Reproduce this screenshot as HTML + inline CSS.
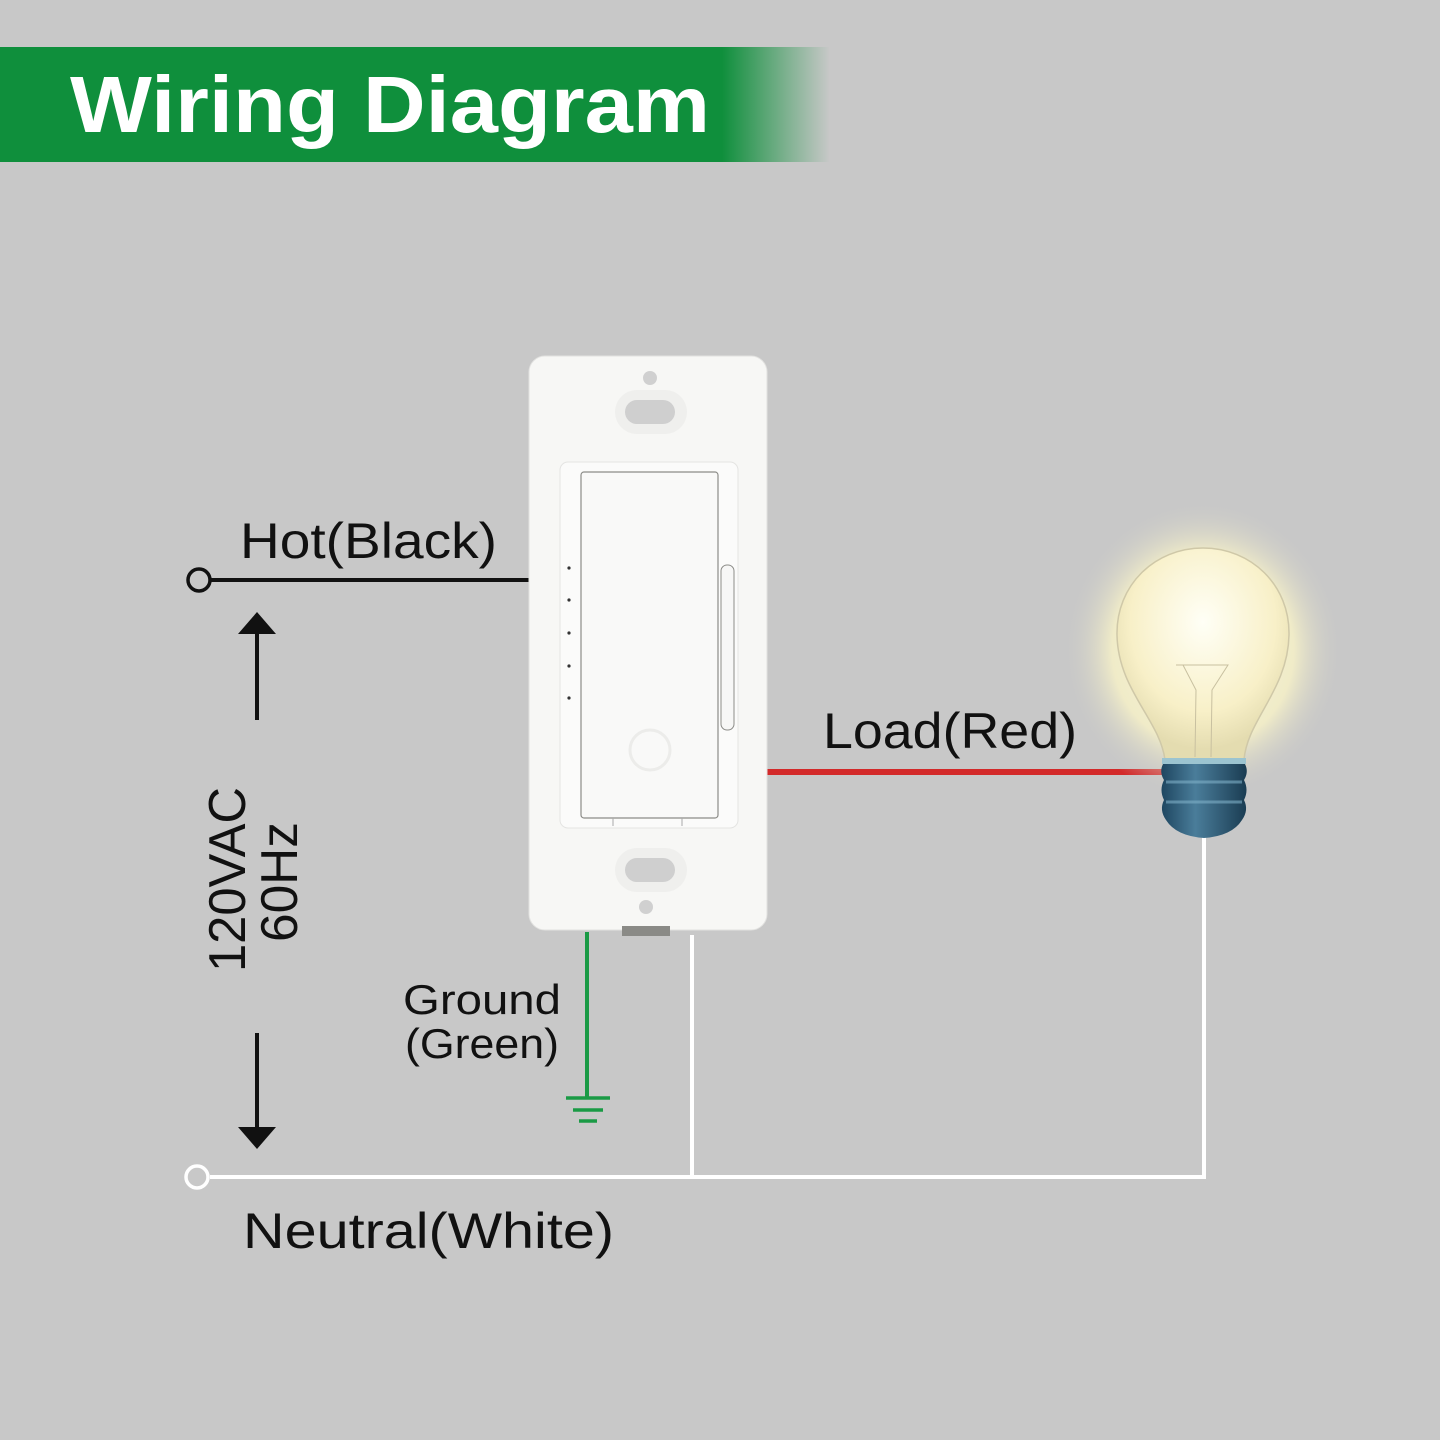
<!DOCTYPE html>
<html><head><meta charset="utf-8"><style>
html,body{margin:0;padding:0;background:#c8c8c8;}
svg{display:block;}
text{font-family:"Liberation Sans",sans-serif;}
</style></head><body>
<svg width="1440" height="1440" viewBox="0 0 1440 1440" xmlns="http://www.w3.org/2000/svg">
<defs>
<linearGradient id="ban" x1="0" x2="1" y1="0" y2="0">
<stop offset="0" stop-color="#0f8f3c"/><stop offset="0.87" stop-color="#0f8f3c"/><stop offset="1" stop-color="#0f8f3c" stop-opacity="0"/>
</linearGradient>
<radialGradient id="glow" cx="0.5" cy="0.5" r="0.5">
<stop offset="0" stop-color="#fffbe0" stop-opacity="1"/><stop offset="0.65" stop-color="#f4efc8" stop-opacity="0.9"/><stop offset="1" stop-color="#c8c8c8" stop-opacity="0"/>
</radialGradient>
<radialGradient id="glass" cx="0.5" cy="0.35" r="0.6">
<stop offset="0" stop-color="#fffff6"/><stop offset="0.7" stop-color="#f8f0c8"/><stop offset="1" stop-color="#e4dcb0"/>
</radialGradient>
<linearGradient id="base" x1="0" x2="1">
<stop offset="0" stop-color="#1e4660"/><stop offset="0.4" stop-color="#4a7d9a"/><stop offset="1" stop-color="#1a3c52"/>
</linearGradient>
</defs>
<rect width="1440" height="1440" fill="#c8c8c8"/>
<rect x="0" y="47" width="830" height="115" fill="url(#ban)"/>
<text x="70" y="132" font-size="80" font-weight="bold" fill="#fff" textLength="640" lengthAdjust="spacingAndGlyphs">Wiring Diagram</text>

<line x1="210" y1="580" x2="529" y2="580" stroke="#111" stroke-width="4"/>
<circle cx="199" cy="580" r="11" fill="none" stroke="#111" stroke-width="3.5"/>
<line x1="210" y1="1177" x2="1206" y2="1177" stroke="#fff" stroke-width="4"/>
<circle cx="197" cy="1177" r="11" fill="none" stroke="#fff" stroke-width="3.5"/>
<line x1="692" y1="935" x2="692" y2="1177" stroke="#fff" stroke-width="4"/>
<line x1="1204" y1="835" x2="1204" y2="1179" stroke="#fff" stroke-width="4"/>
<line x1="767" y1="772" x2="1165" y2="772" stroke="#d32a2a" stroke-width="6"/>
<line x1="587" y1="932" x2="587" y2="1098" stroke="#1a9a45" stroke-width="4"/>
<line x1="566" y1="1098" x2="610" y2="1098" stroke="#1a9a45" stroke-width="3.5"/>
<line x1="573" y1="1110" x2="603" y2="1110" stroke="#1a9a45" stroke-width="3.5"/>
<line x1="579" y1="1121" x2="597" y2="1121" stroke="#1a9a45" stroke-width="3.5"/>

<line x1="257" y1="720" x2="257" y2="630" stroke="#111" stroke-width="4"/>
<polygon points="238,634 276,634 257,612" fill="#111"/>
<line x1="257" y1="1033" x2="257" y2="1130" stroke="#111" stroke-width="4"/>
<polygon points="238,1127 276,1127 257,1149" fill="#111"/>

<text x="240" y="558" font-size="50" fill="#111" textLength="257" lengthAdjust="spacingAndGlyphs">Hot(Black)</text>
<text x="823" y="748" font-size="50" fill="#111" textLength="254" lengthAdjust="spacingAndGlyphs">Load(Red)</text>
<text x="243" y="1248" font-size="50" fill="#111" textLength="371" lengthAdjust="spacingAndGlyphs">Neutral(White)</text>
<text x="403" y="1014" font-size="42" fill="#111" textLength="158" lengthAdjust="spacingAndGlyphs">Ground</text>
<text x="405" y="1058" font-size="42" fill="#111" textLength="154" lengthAdjust="spacingAndGlyphs">(Green)</text>
<text transform="translate(245,972) rotate(-90)" font-size="52" fill="#111" textLength="185" lengthAdjust="spacingAndGlyphs">120VAC</text>
<text transform="translate(297,942) rotate(-90)" font-size="52" fill="#111" textLength="120" lengthAdjust="spacingAndGlyphs">60Hz</text>

<rect x="529" y="356" width="238" height="574" rx="16" fill="#f7f7f5" stroke="#e2e2e0" stroke-width="1"/>
<circle cx="650" cy="378" r="7" fill="#d0d0d0"/>
<rect x="615" y="390" width="72" height="44" rx="22" fill="#efefed"/>
<rect x="625" y="400" width="50" height="24" rx="12" fill="#cfcfcf"/>
<rect x="615" y="848" width="72" height="44" rx="22" fill="#efefed"/>
<rect x="625" y="858" width="50" height="24" rx="12" fill="#cfcfcf"/>
<circle cx="646" cy="907" r="7" fill="#d0d0d0"/>
<rect x="622" y="926" width="48" height="10" fill="#8a8a86"/>
<rect x="560" y="462" width="178" height="366" rx="8" fill="#fbfbfa" stroke="#e4e4e2"/>
<rect x="581" y="472" width="137" height="346" rx="3" fill="#f9f9f8" stroke="#8c8c88" stroke-width="1.2"/>
<line x1="613" y1="818" x2="613" y2="826" stroke="#aaa"/>
<line x1="682" y1="818" x2="682" y2="826" stroke="#aaa"/>
<rect x="721" y="565" width="13" height="165" rx="6" fill="#f7f7f6" stroke="#8c8c88" stroke-width="1"/>
<circle cx="569" cy="568" r="1.6" fill="#333"/>
<circle cx="569" cy="600" r="1.6" fill="#333"/>
<circle cx="569" cy="633" r="1.6" fill="#333"/>
<circle cx="569" cy="666" r="1.6" fill="#333"/>
<circle cx="569" cy="698" r="1.6" fill="#333"/>
<circle cx="650" cy="750" r="20" fill="none" stroke="#ececea" stroke-width="3"/>

<ellipse cx="1203" cy="650" rx="140" ry="150" fill="url(#glow)"/>
<path d="M1165,760 C1160,720 1118,690 1117,635 C1116,585 1155,548 1203,548 C1251,548 1290,585 1289,635 C1288,690 1247,720 1244,760 Z" fill="url(#glass)" stroke="#cfc8a8" stroke-width="1.5"/>
<path d="M1176,665 L1228,665 L1212,690 L1211,757 M1183,665 L1196,690 L1195,757" fill="none" stroke="#c8c0a0" stroke-width="1"/>
<rect x="1162" y="758" width="84" height="6" fill="#9cc4d0"/>
<path d="M1163,764 L1245,764 Q1249,772 1244,780 Q1249,790 1244,800 Q1249,810 1242,820 Q1232,836 1204,838 Q1176,836 1166,820 Q1159,810 1164,800 Q1159,790 1164,780 Q1159,772 1163,764 Z" fill="url(#base)"/>
<line x1="1166" y1="782" x2="1242" y2="782" stroke="#7fb0c8" stroke-width="3" opacity="0.6"/>
<line x1="1166" y1="802" x2="1242" y2="802" stroke="#7fb0c8" stroke-width="3" opacity="0.6"/>
</svg>
</body></html>
